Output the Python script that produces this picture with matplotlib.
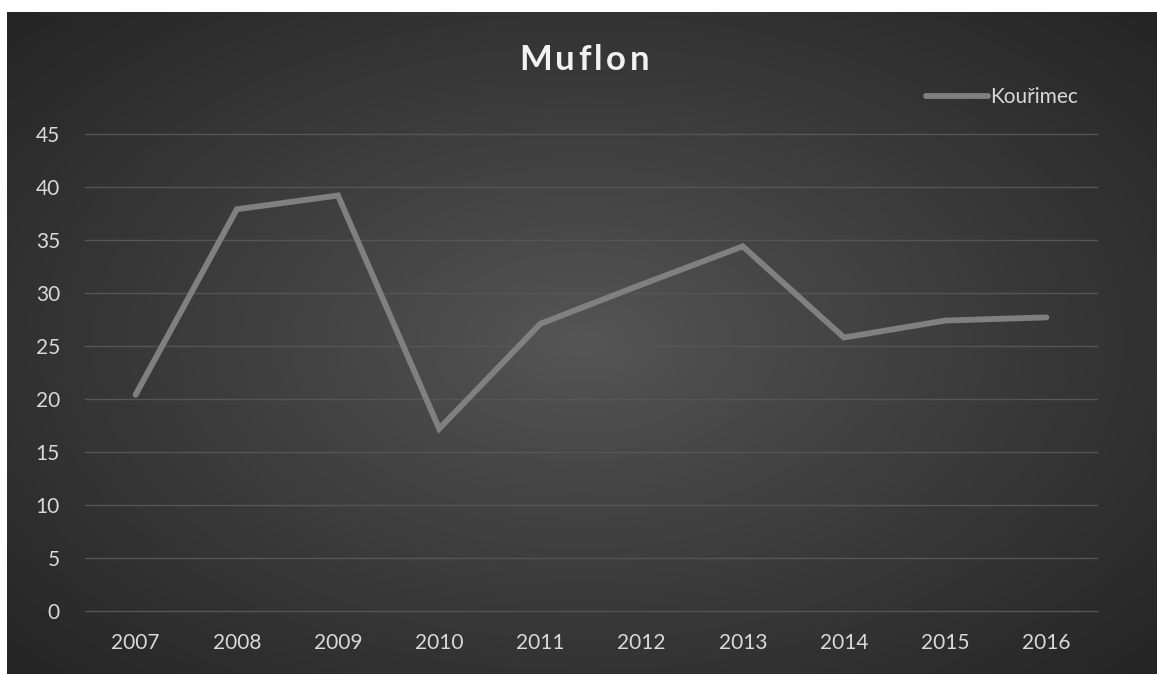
import numpy as np
import matplotlib
matplotlib.use("Agg")
import matplotlib.pyplot as plt

years = ["2007", "2008", "2009", "2010", "2011", "2012", "2013", "2014", "2015", "2016"]
kourimec = [20.4, 37.9, 39.2, 17.2, 27.1, 30.8, 34.4, 25.8, 27.4, 27.7]
y_ticks = [0, 5, 10, 15, 20, 25, 30, 35, 40, 45]

W, H = 1157, 674
fig = plt.figure(figsize=(W / 100, H / 100), dpi=100, facecolor="white")

# dark panel with radial gradient
bg = fig.add_axes([7 / W, 0, 1 - 7 / W, (H - 12) / H])
bg.axis("off")
gx, gy = np.meshgrid(np.linspace(-1, 1, 400), np.linspace(-1, 1, 240))
r = np.sqrt((gx * 0.95) ** 2 + (gy * 0.9) ** 2)
r = np.clip(r / 1.3, 0, 1)
light, dark = 0x56 / 255, 0x25 / 255
val = light + (dark - light) * r ** 0.9
img = np.dstack([val, val, val])
bg.imshow(img, aspect="auto", extent=[0, 1, 0, 1], interpolation="bilinear")
bg.set_xlim(0, 1)
bg.set_ylim(0, 1)

ax = fig.add_axes([85 / W, 1 - 611 / H, (1097 - 85) / W, (611 - 134) / H])
ax.patch.set_alpha(0)
x = np.arange(len(years))
ax.plot(x, kourimec, color="#808080", lw=4.2, solid_capstyle="round",
        solid_joinstyle="miter", label="Kouřimec", zorder=3)

ax.set_xlim(-0.5, len(years) - 0.5)
ax.set_ylim(0, 45)
ax.set_yticks(y_ticks)
ax.set_xticks(x)
ax.set_xticklabels(years)
ax.grid(axis="y", color="#555555", lw=1.0)
for gl in ax.get_ygridlines():
    gl.set_clip_on(False)
ax.set_axisbelow(True)
for s in ax.spines.values():
    s.set_visible(False)
ax.tick_params(length=0, colors="#d9d9d9", labelsize=15)
for lab in ax.get_xticklabels() + ax.get_yticklabels():
    lab.set_family("Lato")
ax.tick_params(axis="y", pad=18)
ax.tick_params(axis="x", pad=16)

# title with a little letter spacing, char by char
title = "Muflon"
renderer = fig.canvas.get_renderer()
pieces = []
total = 0
gap = 3.5
for ch in title:
    t = fig.text(0, 0, ch, fontsize=25, fontweight="bold", color="#f2f2f2",
                 family="Lato", va="center", ha="left")
    w = t.get_window_extent(renderer).width
    pieces.append((t, w))
    total += w
total += gap * (len(title) - 1)
cx = 584 - total / 2
for t, w in pieces:
    t.set_position((cx / W, 1 - 60 / H))
    cx += w + gap

leg = ax.legend(loc="center right", bbox_to_anchor=(1078 / W, 1 - 97 / H),
                bbox_transform=fig.transFigure, frameon=False, handlelength=3.0,
                handletextpad=0.1, borderpad=0, borderaxespad=0,
                prop={"family": "Lato", "size": 15})
for t in leg.get_texts():
    t.set_color("#d9d9d9")

fig.savefig("out.png", dpi=100, facecolor="white")
